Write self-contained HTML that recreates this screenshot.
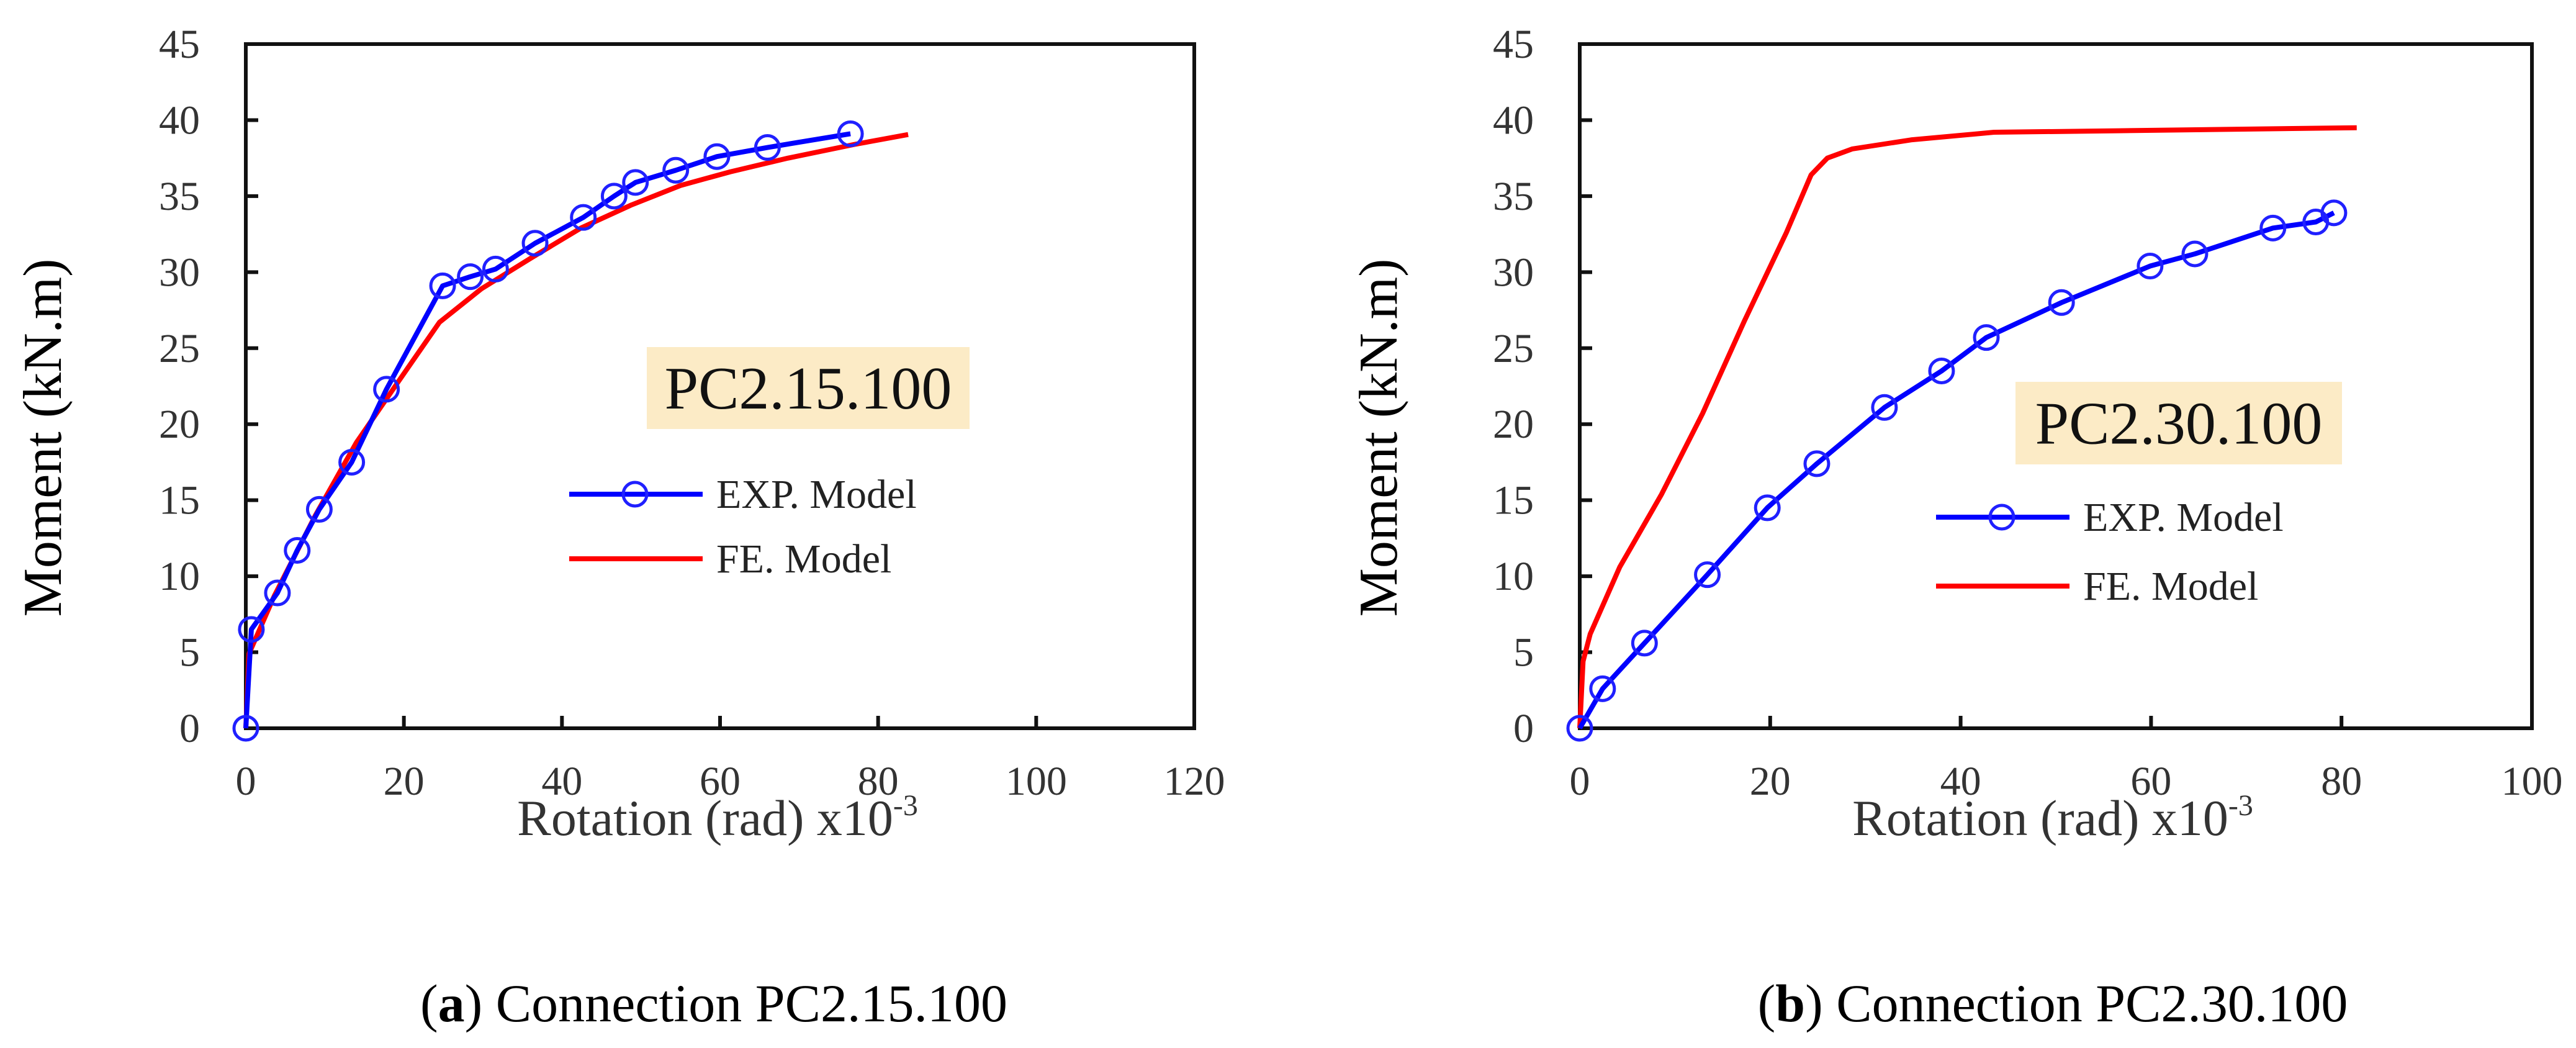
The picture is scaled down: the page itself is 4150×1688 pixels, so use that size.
<!DOCTYPE html>
<html><head><meta charset="utf-8"><style>
html,body{margin:0;padding:0;background:#fff;}
svg{display:block;font-family:"Liberation Serif",serif;}
</style></head><body>
<svg id="fig" width="4150" height="1688" viewBox="0 0 4150 1688" xmlns="http://www.w3.org/2000/svg">
<rect width="4150" height="1688" fill="#fff"/>
</svg>
<script>
const xTicksA = [0,20,40,60,80,100,120];
const xTicksB = [0,20,40,60,80,100];
const yTicks = [0,5,10,15,20,25,30,35,40,45];
const expAx = [0,0.7,4,6.5,9.3,13.4,17.8,24.9,28.4,31.6,36.6,42.7,46.6,49.3,54.4,59.6,66,76.5];
const expAy = [0,6.5,8.9,11.7,14.4,17.5,22.3,29.1,29.7,30.2,31.9,33.6,35,35.9,36.7,37.6,38.2,39.1];
const feAx = [0,0.4,3.6,8.8,14,19.3,24.5,29.8,36,42.4,48.7,55,61.3,68.6,77,83.8];
const feAy = [0,4.9,8.7,14,18.8,22.8,26.7,28.9,30.9,32.9,34.4,35.7,36.6,37.5,38.4,39.05];
const expBx = [0,2.4,6.8,13.4,19.7,24.9,32,38,42.7,50.6,59.9,64.6,72.8,77.3,79.2];
const expBy = [0,2.6,5.6,10.1,14.5,17.4,21.1,23.5,25.7,28,30.4,31.2,32.9,33.3,33.9];
const feBx = [0,0.35,1.1,4.2,8.6,12.9,17.3,21.7,24.3,26,28.6,34.8,43.5,56.6,81.6];
const feBy = [0,4.4,6.2,10.6,15.4,20.7,26.8,32.6,36.4,37.5,38.1,38.7,39.2,39.3,39.5];

const NS="http://www.w3.org/2000/svg";
const svg=document.getElementById('fig');
function mk(tag,attrs,parent){const e=document.createElementNS(NS,tag);for(const k in attrs)e.setAttribute(k,attrs[k]);(parent||svg).appendChild(e);return e;}

function panel(p){
  const g=mk('g',{});
  
  
  const L=p.left,R=p.right,T=71,B=1173;
  const sx=v=>L+(v-0)/(p.xmax)*(R-L);
  const sy=v=>B-v/45*(B-T);
  // axes frame
  const fr=mk('rect',{x:L,y:T,width:R-L,height:B-T,fill:'none',stroke:'#111','stroke-width':6},g);
  
  
  p.xt.forEach(v=>{
    const t=mk('line',{x1:sx(v),x2:sx(v),y1:B,y2:B-20,stroke:'#111','stroke-width':6},g);
    
    
    const lb=mk('text',{x:sx(v),y:1280,'text-anchor':'middle','font-size':66,fill:'#333'},g);
    lb.textContent=v;
    
    
  });
  yTicks.forEach(v=>{
    const t=mk('line',{x1:L,x2:L+20,y1:sy(v),y2:sy(v),stroke:'#111','stroke-width':6},g);
    
    
    const lb=mk('text',{x:L-74,y:sy(v)+22,'text-anchor':'end','font-size':66,fill:'#333'},g);
    lb.textContent=v;
    
    
  });
  // y title
  const yt=mk('text',{x:0,y:0,'text-anchor':'middle','font-size':88,fill:'#000',transform:`translate(${p.ytx},705) rotate(-90)`},g);
  yt.textContent='Moment (kN.m)';
  
  
  const xt=mk('text',{x:p.xtx,y:1345,'text-anchor':'middle','font-size':82,fill:'#333'},g);
  xt.innerHTML='Rotation (rad) x10<tspan dy="-32" font-size="48">-3</tspan>';
  
  
  // label box
  const bx=mk('rect',{x:p.box[0],y:p.box[1],width:p.box[2],height:p.box[3],fill:'#fcebc6'},g);
  
  
  const bt=mk('text',{x:p.box[0]+p.box[2]/2,y:p.box[1]+p.box[3]/2+33,'text-anchor':'middle','font-size':98,fill:'#111'},g);
  bt.textContent=p.label;
  
  
  // series
  const fe=mk('polyline',{points:p.fx.map((v,i)=>sx(v)+','+sy(p.fy[i])).join(' '),fill:'none',stroke:'#ff0000','stroke-width':8,'stroke-linejoin':'round'},g);
  
  
  const ex=mk('polyline',{points:p.ex.map((v,i)=>sx(v)+','+sy(p.ey[i])).join(' '),fill:'none',stroke:'#0000ff','stroke-width':8,'stroke-linejoin':'round'},g);
  
  
  p.ex.forEach((v,i)=>{
    const c=mk('circle',{cx:sx(v),cy:sy(p.ey[i]),r:19,fill:'none',stroke:'#2020ff','stroke-width':5},g);
    
    
  });
  // legend
  const lg=mk('g',{},g);
  
  
  const l1=mk('line',{x1:p.leg[0],x2:p.leg[0]+215,y1:p.leg[1],y2:p.leg[1],stroke:'#0000ff','stroke-width':8},lg);
  
  
  const lc=mk('circle',{cx:p.leg[0]+106,cy:p.leg[1],r:19,fill:'none',stroke:'#2020ff','stroke-width':5},lg);
  
  
  const t1=mk('text',{x:p.leg[0]+237,y:p.leg[1]+22,'font-size':66,fill:'#222'},lg);
  t1.textContent='EXP. Model';
  
  
  const l2=mk('line',{x1:p.leg[0],x2:p.leg[0]+215,y1:p.leg[2],y2:p.leg[2],stroke:'#ff0000','stroke-width':8},lg);
  
  
  const t2=mk('text',{x:p.leg[0]+237,y:p.leg[2]+22,'font-size':66,fill:'#222'},lg);
  t2.textContent='FE. Model';
  
  
  // caption
  const cp=mk('text',{x:p.capx,y:1645,'text-anchor':'middle','font-size':86,fill:'#000'},g);
  cp.innerHTML='(<tspan font-weight="bold">'+p.letter+'</tspan>) Connection '+p.label;
  
  
}
panel({id:'pc2-15-100',left:396,right:1924,xmax:120,xt:xTicksA,ytx:98,xtx:1156,box:[1042,559,520,132],label:'PC2.15.100',
  ex:expAx,ey:expAy,fx:feAx,fy:feAy,leg:[917,796,900],capx:1150,letter:'a'});
panel({id:'pc2-30-100',left:2545,right:4079,xmax:100,xt:xTicksB,ytx:2250,xtx:3307,box:[3247,615,526,133],label:'PC2.30.100',
  ex:expBx,ey:expBy,fx:feBx,fy:feBy,leg:[3119,833,944],capx:3307,letter:'b'});
</script>
</body></html>
